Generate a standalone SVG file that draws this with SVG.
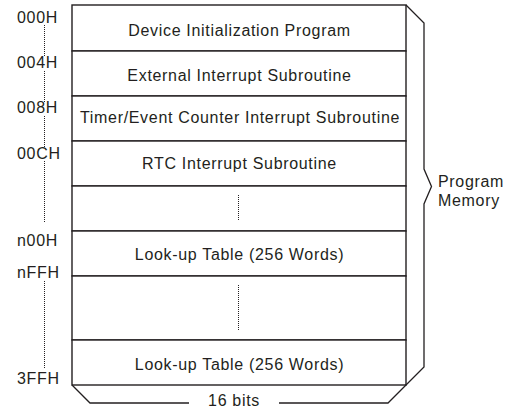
<svg xmlns="http://www.w3.org/2000/svg" width="510" height="409" viewBox="0 0 510 409">
<style>
text{font-family:"Liberation Sans",Arial,sans-serif;font-size:16px;letter-spacing:0.68px;fill:#231f20}
.c{text-anchor:middle}
.box{fill:#fff;stroke:#231f20;stroke-width:1.4}
.ln{fill:none;stroke:#231f20;stroke-width:1.3}
.dot{fill:none;stroke:#231f20;stroke-width:1;stroke-dasharray:1 1}
</style>
<rect width="510" height="409" fill="#fff"/>
<g id="memory-map">
<g id="row-init"><rect class="box" x="72" y="5" width="334" height="46"/><text class="c" x="239.5" y="35.5">Device Initialization Program</text></g>
<g id="row-ext"><rect class="box" x="72" y="51" width="334" height="45"/><text class="c" x="239.5" y="80.5">External Interrupt Subroutine</text></g>
<g id="row-timer"><rect class="box" x="72" y="96" width="334" height="45"/><text class="c" x="240" y="123">Timer/Event Counter Interrupt Subroutine</text></g>
<g id="row-rtc"><rect class="box" x="72" y="141" width="334" height="45"/><text class="c" x="239.5" y="168.5">RTC Interrupt Subroutine</text></g>
<g id="row-gap1"><rect class="box" x="72" y="186" width="334" height="45"/><line class="dot" x1="238.5" y1="195" x2="238.5" y2="221"/></g>
<g id="row-lut1"><rect class="box" x="72" y="231" width="334" height="45"/><text class="c" x="239.5" y="260">Look-up Table (256 Words)</text></g>
<g id="row-gap2"><rect class="box" x="72" y="276" width="334" height="64"/><line class="dot" x1="238.5" y1="285" x2="238.5" y2="330"/></g>
<g id="row-lut2"><rect class="box" x="72" y="340" width="334" height="45"/><text class="c" x="239.5" y="369.5">Look-up Table (256 Words)</text></g>
</g>
<g id="addresses">
<text x="17" y="23">000H</text>
<text x="17" y="68">004H</text>
<text x="17" y="113">008H</text>
<text x="17" y="159">00CH</text>
<text x="17" y="246">n00H</text>
<text x="17" y="278">nFFH</text>
<text x="17" y="384">3FFH</text>
</g>
<g id="label-program-memory">
<text x="438" y="186.5">Program</text>
<text x="438" y="205.5">Memory</text>
</g>
<g id="label-width"><text class="c" x="234" y="406">16 bits</text></g>
<g id="connectors">
<line class="dot" x1="44.5" y1="25" x2="44.5" y2="57"/>
<line class="dot" x1="44.5" y1="71" x2="44.5" y2="102"/>
<line class="dot" x1="44.5" y1="116" x2="44.5" y2="147"/>
<line class="dot" x1="44.5" y1="161" x2="44.5" y2="222"/>
<line class="dot" x1="44.5" y1="281" x2="44.5" y2="369"/>
<polyline class="ln" points="406,5 424,23 424,169 431.5,186.5 424,204 424,367 406,385"/>
<polyline class="ln" points="72,385 90,403 189,403"/>
<polyline class="ln" points="279,403 388,403 406,385"/>
</g>
</svg>
